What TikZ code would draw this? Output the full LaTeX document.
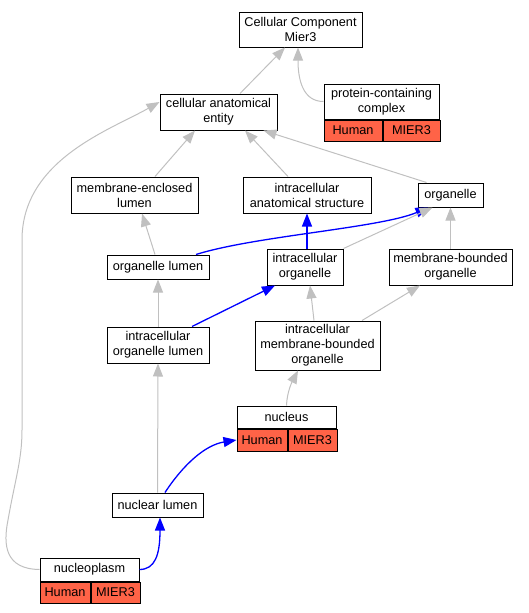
\documentclass[tikz,border=0pt]{standalone}
\usepackage{fontspec}
\setmainfont{Liberation Sans}
\usepackage{tikz}
\usetikzlibrary{arrows.meta}
\usetikzlibrary{positioning}
\usetikzlibrary{calc}

\definecolor{edgegray}{RGB}{192,192,192}
\definecolor{tomato}{RGB}{255,99,71}
\newcommand{\termfont}{\fontsize{12.7}{15}\selectfont}

\tikzset{
  term/.style={draw, line width=1pt, fill=white, inner sep=0pt, align=center, font=\termfont},
  orgcell/.style={draw, line width=1pt, fill=tomato, inner sep=0pt, font=\termfont, anchor=north west},
  isa/.style={draw=edgegray, line width=1pt, -{Triangle[length=13pt,width=10pt]}},
  partof/.style={draw=blue, line width=1.3pt, -{Triangle[length=13pt,width=10pt]}}
}

\begin{document}
\begin{tikzpicture}[x=1pt,y=1pt,yscale=-1,xscale=1]
\path[use as bounding box] (0,0) rectangle (528,613); %whole page, 528 wide and 613 high
% Text Node
\node [term, minimum width=123, minimum height=35] (cc) at (300.5,29.5) {Cellular Component\\Mier3};
% Text Node
\node [term, minimum width=117, minimum height=36] (cae) at (218.5,112) {cellular anatomical\\entity};
% Text Node
\node [term, minimum width=115, minimum height=35] (pcc) at (381.5,101.5) {protein-containing\\complex};
\node [orgcell, minimum width=58, minimum height=21] (pccH) at (pcc.south west) {Human};
\node [orgcell, minimum width=57, minimum height=21] (pccG) at (pccH.north east) {MIER3};
% Text Node
\node [term, minimum width=127, minimum height=36] (mel) at (134.5,195) {membrane-enclosed\\lumen};
% Text Node
\node [term, minimum width=128, minimum height=36] (ias) at (307,195) {intracellular\\anatomical structure};
% Text Node
\node [term, minimum width=65, minimum height=24] (org) at (450.5,195) {organelle};
% Text Node
\node [term, minimum width=102, minimum height=24] (ol) at (158,267) {organelle lumen};
% Text Node
\node [term, minimum width=76, minimum height=36] (io) at (305,267) {intracellular\\organelle};
% Text Node
\node [term, minimum width=123, minimum height=36] (mbo) at (450.5,267) {membrane-bounded\\organelle};
% Text Node
\node [term, minimum width=102, minimum height=36] (iol) at (158,345) {intracellular\\organelle lumen};
% Text Node
\node [term, minimum width=125, minimum height=49] (imbo) at (317.5,345.5) {intracellular\\membrane-bounded\\organelle};
% Text Node
\node [term, minimum width=99, minimum height=22] (nuc) at (286.5,417) {nucleus};
\node [orgcell, minimum width=50, minimum height=22] (nucH) at (nuc.south west) {Human};
\node [orgcell, minimum width=49, minimum height=22] (nucG) at (nucH.north east) {MIER3};
% Text Node
\node [term, minimum width=91, minimum height=24] (nl) at (157.5,505) {nuclear lumen};
% Text Node
\node [term, minimum width=99, minimum height=23] (np) at (89.5,569.5) {nucleoplasm};
\node [orgcell, minimum width=50, minimum height=21] (npH) at (np.south west) {Human};
\node [orgcell, minimum width=49, minimum height=21] (npG) at (npH.north east) {MIER3};

%Straight Lines
\draw [isa] ([xshift=21.5pt]cae.north) -- ([xshift=-15.5pt]cc.south);
%Curve Lines
\draw [isa] (pcc.west) .. controls (303,101.5) and (298,80) .. ([xshift=-2.5pt]cc.south);
%Straight Lines
\draw [isa] ([xshift=20.5pt]mel.north) -- ([xshift=-23.5pt]cae.south);
%Straight Lines
\draw [isa] ([xshift=-19pt]ias.north) -- ([xshift=26.5pt]cae.south);
%Straight Lines
\draw [isa] ([xshift=-24pt]org.north) -- ([xshift=45pt]cae.south);
%Curve Lines
\draw [isa] (np.west) .. controls (5,569) and (3,545) .. (8,520) .. controls (15,480) and (22,460) .. (22,430) -- (22,240) .. controls (22,160) and (110,130) .. ([yshift=-10pt]cae.west);
%Straight Lines
\draw [isa] ([xshift=-3pt]ol.north) -- ([xshift=7.5pt]mel.south);
%Curve Lines
\draw [partof] ([xshift=38pt]ol.north) .. controls (255,236) and (380,228) .. ([xshift=-22pt]org.south);
%Straight Lines
\draw [partof] ([xshift=2pt]io.north) -- (ias.south);
%Straight Lines
\draw [isa] (io.north east) -- ([xshift=-18pt]org.south);
%Straight Lines
\draw [isa] (mbo.north) -- (org.south);
%Straight Lines
\draw [isa] (iol.north) -- (ol.south);
%Straight Lines
\draw [partof] ([xshift=34pt]iol.north) -- ([xshift=-30pt]io.south);
%Straight Lines
\draw [isa] ([xshift=-3.5pt]imbo.north) -- ([xshift=5pt]io.south);
%Straight Lines
\draw [isa] ([xshift=44.5pt]imbo.north) -- ([xshift=-30.5pt]mbo.south);
%Curve Lines
\draw [isa] (nuc.north) .. controls (287,392) and (292,382) .. ([xshift=-19.5pt]imbo.south);
%Straight Lines
\draw [isa] (nl.north) -- (iol.south);
%Curve Lines
\draw [partof] ([xshift=7.5pt]nl.north) .. controls (183,465) and (205,445) .. (nucH.west);
%Curve Lines
\draw [partof] (np.east) .. controls (155,569.5) and (160,555) .. ([xshift=2.5pt]nl.south);
\end{tikzpicture}
\end{document}
